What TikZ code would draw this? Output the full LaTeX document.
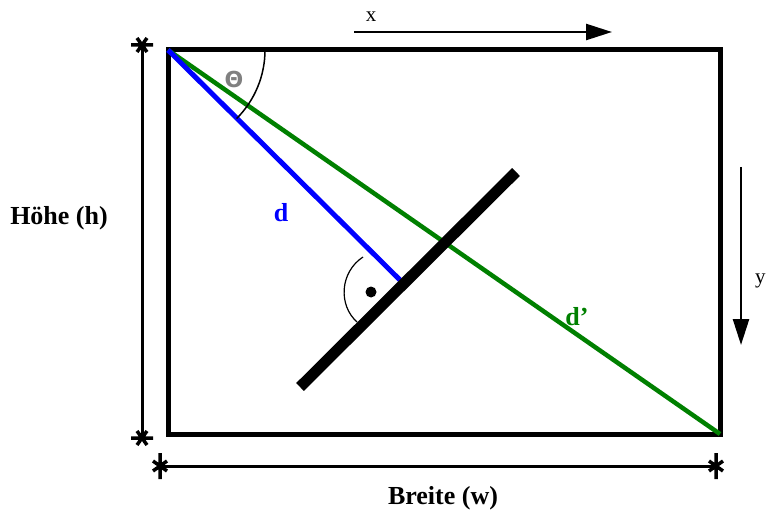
\documentclass[tikz,border=0pt]{standalone}
\usepackage{fontspec}
\setmainfont{Liberation Serif}
\newfontfamily\symfont{DejaVu Sans}
\usetikzlibrary{arrows.meta}
\definecolor{dgreen}{RGB}{0,128,0}
\definecolor{thgray}{RGB}{128,128,128}
\tikzset{
  frame/.style={line width=5pt},
  dimline/.style={line width=3pt},
  axisarrow/.style={line width=2.5pt,-{Triangle[length=26pt,width=16pt]}},
  bigbold/.style={font=\fontsize{26}{30}\selectfont\bfseries},
  axislabel/.style={font=\fontsize{21}{24}\selectfont},
  pics/astv/.style={code={\draw[line width=3.5pt] (-11,0)--(11,0) (-5,-7)--(5,7) (-5,7)--(5,-7);}},
  pics/asth/.style={code={\draw[line width=3.5pt] (0,-13)--(0,13) (-7,-5)--(7,5) (-7,5)--(7,-5);}}
}
\begin{document}
\begin{tikzpicture}[x=1pt,y=-1pt]
\useasboundingbox (0,0) rectangle (767,529);
% frame
\coordinate (TL) at (168,50);
\coordinate (BR) at (720,434);
\draw[frame] (TL) rectangle (BR);
% diagonals
\coordinate (F) at (400,280);
\coordinate (B1) at (300,387);
\coordinate (B2) at (516,172);
\draw[dgreen,line width=4.5pt] (TL) -- (BR);
\draw[blue,line width=5pt] (TL) -- (F);
\draw[line width=11pt] (B1) -- (B2);
% theta arc
\coordinate (A0) at (265,50);
\draw[line width=1.5pt] (A0) arc[start angle=0,end angle=45,radius=97];
\node[text=thgray,font=\symfont\fontsize{22}{24}\selectfont\bfseries] (th) at (234,79) {Θ};
% right angle mark
\coordinate (R1) at (363,257);
\coordinate (R2) at (357,322);
\draw[line width=1.2pt] (R1) .. controls (340,272) and (338,305) .. (R2);
\fill (371,292) circle[radius=5.5];
% labels
\node[bigbold,text=blue] (d) at (281,213) {d};
\node[bigbold,text=dgreen] (dp) at (577,317) {d’};
\node[bigbold] (h) at (59,218) {Höhe (h)};
\node[bigbold] (w) at (443,498) {Breite (w)};
% dimension lines
\coordinate (L1) at (142,45);
\coordinate (L2) at (142,438);
\draw[dimline] (L1) -- (L2);
\pic at (L1) {astv};
\pic at (L2) {astv};
\coordinate (W1) at (160,466);
\coordinate (W2) at (716,466);
\draw[dimline] (W1) -- (W2);
\pic at (W1) {asth};
\pic at (W2) {asth};
% axes
\coordinate (X1) at (354,32);
\coordinate (X2) at (612,32);
\draw[axisarrow] (X1) -- (X2);
\node[axislabel] (x) at (371,17) {x};
\coordinate (Y1) at (741,167);
\coordinate (Y2) at (741,345);
\draw[axisarrow] (Y1) -- (Y2);
\node[axislabel,anchor=west,inner sep=0pt] (y) at (755,281) {y};
\end{tikzpicture}
\end{document}
